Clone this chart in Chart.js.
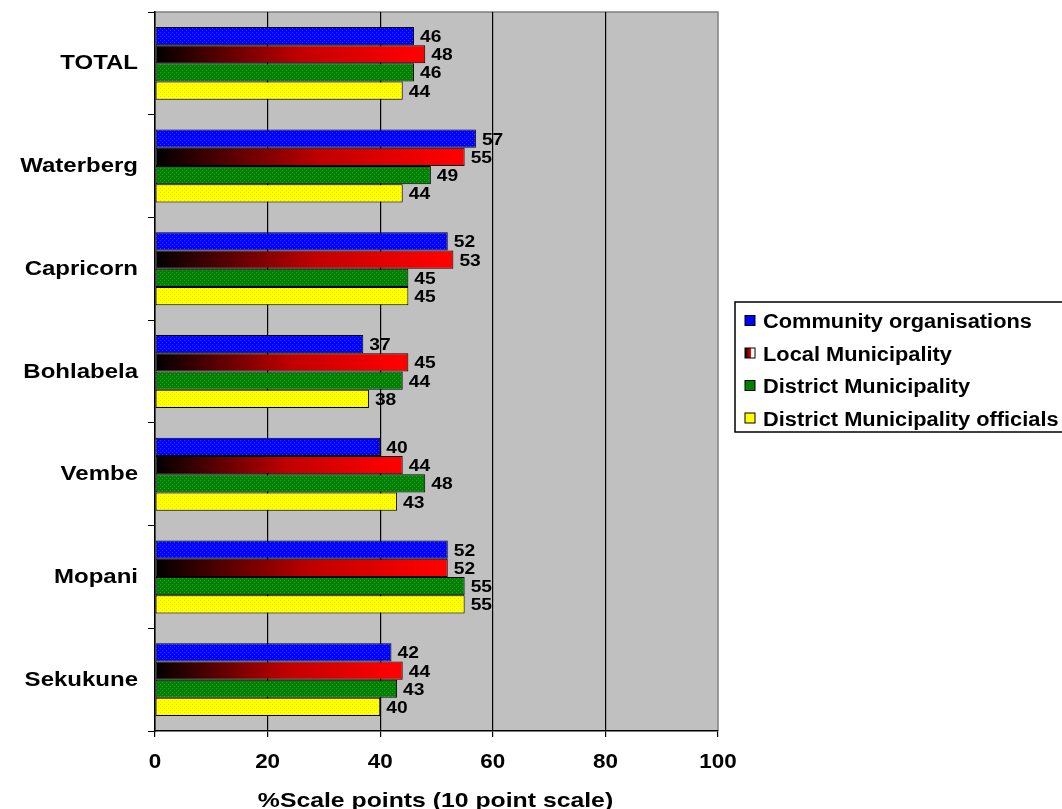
<!DOCTYPE html>
<html lang="en">
<head>
    <meta charset="utf-8">
    <title>Scale points by district</title>
    <script src="https://cdn.jsdelivr.net/npm/chart.js"></script>
    <style>
        html, body { margin: 0; padding: 0; background: #fff; }
        #wrap { width: 1062px; height: 809px; }
    </style>
</head>
<body>
    <div id="wrap"><canvas id="scoreChart"></canvas></div>

    <script>
        const categories = ['TOTAL', 'Waterberg', 'Capricorn', 'Bohlabela', 'Vembe', 'Mopani', 'Sekukune'];
        const seriesNames = ['Community organisations', 'Local Municipality', 'District Municipality', 'District Municipality officials'];
        const community = [46, 57, 52, 37, 40, 52, 42];
        const localMun = [48, 55, 53, 45, 44, 52, 44];
        const districtMun = [46, 49, 45, 44, 48, 55, 43];
        const districtOfficials = [44, 44, 45, 38, 43, 55, 40];
        const xTicks = [0, 20, 40, 60, 80, 100];
        const xTitle = '%Scale points (10 point scale)';

        const FONT = 'Liberation Sans, Arial, sans-serif';

        // small dotted fill like the old office charts
        function dotPattern(base, dot) {
            const c = document.createElement('canvas');
            c.width = 4; c.height = 4;
            const g = c.getContext('2d');
            g.fillStyle = base;
            g.fillRect(0, 0, 4, 4);
            g.fillStyle = dot;
            g.fillRect(0, 0, 1, 1);
            g.fillRect(2, 2, 1, 1);
            return g.createPattern(c, 'repeat');
        }

        const bluePat = dotPattern('#0000ff', '#3a3aff');
        const greenPat = dotPattern('#008000', '#2fa02f');
        const yellowPat = dotPattern('#ffff00', '#e6e600');

        function redGradient(context) {
            const chart = context.chart;
            if (!chart.chartArea || !chart.scales.x) return '#ff0000';
            const x0 = chart.scales.x.getPixelForValue(0);
            const x1 = chart.scales.x.getPixelForValue(context.raw || 1);
            const grad = chart.ctx.createLinearGradient(x0, 0, x1 * 0.98, 0);
            grad.addColorStop(0, '#000000');
            grad.addColorStop(0.55, '#c00000');
            grad.addColorStop(1, '#ff0000');
            return grad;
        }

        // the original text is bold arial, a bit wider than normal
        function wideText(ctx, text, x, y, size, sx, align) {
            ctx.save();
            ctx.font = 'bold ' + size + 'px ' + FONT;
            ctx.fillStyle = '#000';
            ctx.textAlign = align;
            ctx.textBaseline = 'alphabetic';
            ctx.translate(x, y);
            ctx.scale(sx, 1);
            ctx.fillText(text, 0, 0);
            ctx.restore();
        }

        const plotBack = {
            id: 'plotBack',
            beforeDraw(chart) {
                const a = chart.chartArea;
                const ctx = chart.ctx;
                ctx.save();
                ctx.fillStyle = '#c0c0c0';
                ctx.fillRect(a.left, a.top, a.right - a.left, a.bottom - a.top);
                ctx.strokeStyle = '#808080';
                ctx.lineWidth = 1.5;
                ctx.beginPath();
                ctx.moveTo(a.left, a.top);
                ctx.lineTo(a.right, a.top);
                ctx.lineTo(a.right, a.bottom);
                ctx.stroke();
                ctx.restore();
            }
        };

        const textLayer = {
            id: 'textLayer',
            afterDraw(chart) {
                const ctx = chart.ctx;
                const a = chart.chartArea;
                const xs = chart.scales.x;
                const ys = chart.scales.y;

                // value labels at the bar ends
                chart.data.datasets.forEach((ds, i) => {
                    chart.getDatasetMeta(i).data.forEach((bar, j) => {
                        wideText(ctx, String(ds.data[j]), bar.x + 6, bar.y + 6, 16, 1.2, 'left');
                    });
                });

                // category labels
                categories.forEach((c, i) => {
                    wideText(ctx, c, 138, ys.getPixelForValue(i) + 6, 20, 1.2, 'right');
                });

                // x tick labels and title
                xTicks.forEach(v => {
                    wideText(ctx, String(v), xs.getPixelForValue(v), 768, 19.5, 1.15, 'center');
                });
                wideText(ctx, xTitle, (a.left + a.right) / 2 - 1, 806.5, 21, 1.18, 'center');

                // legend box, runs off the right edge like the original
                ctx.save();
                ctx.strokeStyle = '#000';
                ctx.lineWidth = 1.5;
                ctx.strokeRect(735, 302, 340, 130);
                chart.data.datasets.forEach((ds, i) => {
                    const y = 320.5 + i * 32.5;
                    if (i === 1) {
                        const g = ctx.createLinearGradient(745, 0, 755, 0);
                        g.addColorStop(0, '#000');
                        g.addColorStop(0.6, '#ff0000');
                        g.addColorStop(0.61, '#ffffff');
                        g.addColorStop(1, '#ffffff');
                        ctx.fillStyle = g;
                    } else {
                        ctx.fillStyle = ds.legendColor;
                    }
                    ctx.fillRect(745, y - 5, 10, 10);
                    ctx.strokeStyle = '#000';
                    ctx.lineWidth = 1;
                    ctx.strokeRect(745, y - 5, 10, 10);
                    wideText(ctx, ds.label, 763, y + 7.5, 20, 1.09, 'left');
                });
                ctx.restore();
            }
        };

        const ctx = document.getElementById('scoreChart').getContext('2d');
        new Chart(ctx, {
            type: 'bar',
            data: {
                labels: categories,
                datasets: [
                    { label: seriesNames[0], data: community, backgroundColor: bluePat, legendColor: '#0000ff' },
                    { label: seriesNames[1], data: localMun, backgroundColor: redGradient, legendColor: '#e00000' },
                    { label: seriesNames[2], data: districtMun, backgroundColor: greenPat, legendColor: '#008000' },
                    { label: seriesNames[3], data: districtOfficials, backgroundColor: yellowPat, legendColor: '#ffff00' }
                ]
            },
            options: {
                indexAxis: 'y',
                responsive: true,
                maintainAspectRatio: false,
                animation: false,
                layout: { padding: { top: 12, right: 344, left: 0, bottom: 0 } },
                datasets: {
                    bar: {
                        borderColor: '#000',
                        borderWidth: 1,
                        borderSkipped: false,
                        categoryPercentage: 0.71,
                        barPercentage: 1
                    }
                },
                scales: {
                    x: {
                        min: 0,
                        max: 100,
                        afterFit: (s) => { s.height = 78; },
                        afterBuildTicks: (s) => { s.ticks = xTicks.map(v => ({ value: v })); },
                        grid: {
                            color: (c) => (c.tick && c.tick.value === 100) ? 'rgba(0,0,0,0)' : '#000',
                            lineWidth: 1.2,
                            tickColor: '#000',
                            tickLength: 6
                        },
                        border: { color: '#000', width: 1.5 },
                        ticks: { display: false }
                    },
                    y: {
                        afterFit: (s) => { s.width = 155; },
                        grid: {
                            offset: true,
                            drawOnChartArea: false,
                            color: '#000',
                            tickLength: 7
                        },
                        border: { color: '#000', width: 1.5 },
                        ticks: { display: false }
                    }
                },
                plugins: {
                    legend: { display: false },
                    tooltip: { enabled: false }
                }
            },
            plugins: [plotBack, textLayer]
        });
    </script>
</body>
</html>
